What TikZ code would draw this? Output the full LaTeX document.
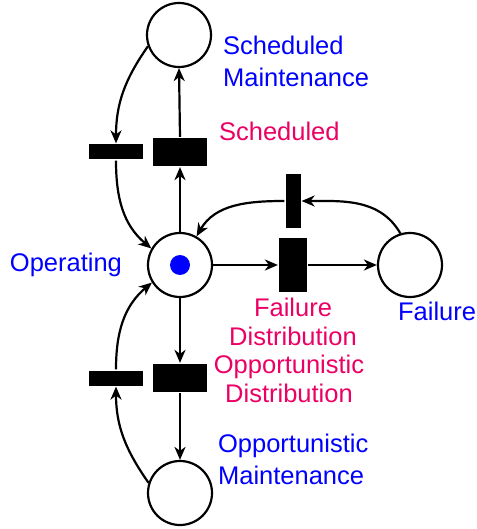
\documentclass[tikz,border=0pt]{standalone}
\usepackage{fontspec}
\setmainfont{Liberation Sans}
\usetikzlibrary{arrows.meta}
\definecolor{placeblue}{RGB}{0,0,255}
\definecolor{transred}{RGB}{235,0,100}
\begin{document}
\begin{tikzpicture}[x=1pt, y=-1pt, line width=2.2pt,
    place/.style={draw, circle, minimum size=64pt, inner sep=0pt},
    token/.style={fill=placeblue, circle, minimum size=20pt, inner sep=0pt},
    bigtrans/.style={fill=black, rectangle, minimum width=54pt, minimum height=28pt, inner sep=0pt},
    thintrans/.style={fill=black, rectangle, minimum width=54pt, minimum height=15pt, inner sep=0pt},
    arc/.style={-{Stealth[length=13pt, width=11pt, inset=4pt]}},
    placelabel/.style={text=placeblue, font=\fontsize{25.5}{32}\selectfont, inner sep=0pt},
    translabel/.style={text=transred, font=\fontsize{25.5}{28.5}\selectfont, inner sep=0pt}]
    \useasboundingbox (0,0) rectangle (476,529);
    % places
    \node[place] (op) at (180,265) {};
    \node[token] (tok) at (180,265) {};
    \node[place] (sm) at (179,35) {};
    \node[place] (om) at (180,493) {};
    \node[place] (fl) at (410,265) {};
    % transitions
    \node[bigtrans] (sched) at (180,152) {};
    \node[thintrans] (smdone) at (116,152) {};
    \node[bigtrans] (opp) at (180,378) {};
    \node[thintrans] (omdone) at (116,378) {};
    \node[bigtrans, rotate=90] (fail) at (293,265) {};
    \node[thintrans, rotate=90] (repair) at (293,201) {};
    % labels
    \node[placelabel, anchor=west, align=left] (smlab) at (222,61) {Scheduled\\Maintenance};
    \node[placelabel, anchor=east] (oplab) at (123,265) {Operating};
    \node[placelabel, anchor=west] (fllab) at (397,311) {Failure};
    \node[placelabel, anchor=west, align=left] (omlab) at (217,459) {Opportunistic\\Maintenance};
    \node[translabel, anchor=west] (schedlab) at (218,131) {Scheduled};
    \node[translabel, align=center] (faillab) at (293,322) {Failure\\Distribution};
    \node[translabel, align=center] (opplab) at (289,379) {Opportunistic\\Distribution};
    % arcs
    \draw[arc] (op.north) -- (sched.south);
    \draw[arc] (sched.north) -- (sm.south);
    \draw[arc] (sm.200) to[out=235, in=90] (smdone.north);
    \draw[arc] (smdone.south) to[out=-90, in=140] (op.150);
    \draw[arc] (op.east) -- (fail.north);
    \draw[arc] (fail.south) -- (fl.west);
    \draw[arc] (fl.107) to[out=120, in=0] (repair.south);
    \draw[arc] (repair.north) to[out=180, in=60] (op.60);
    \draw[arc] (op.south) -- (opp.north);
    \draw[arc] (opp.south) -- (om.north);
    \draw[arc] (om.162) to[out=125, in=-90] (omdone.south);
    \draw[arc] (omdone.north) to[out=90, in=-140] (op.212);
\end{tikzpicture}
\end{document}
